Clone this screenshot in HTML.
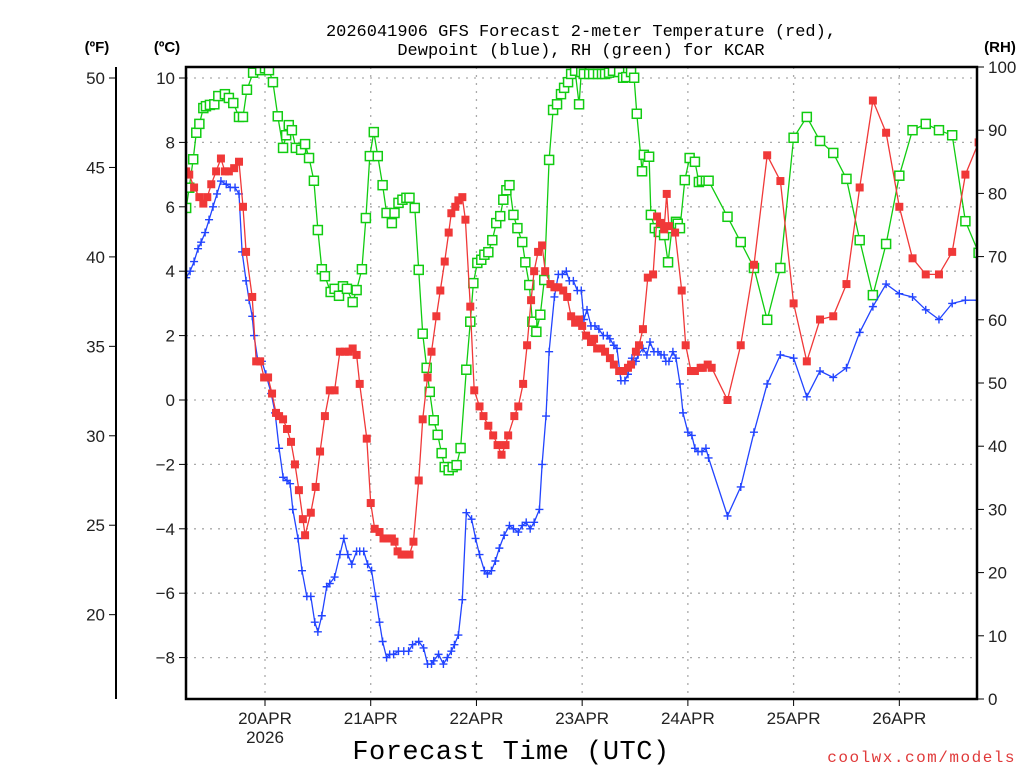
<!DOCTYPE html>
<html><head><meta charset="utf-8"><style>
html,body{margin:0;padding:0;background:#fff;width:1024px;height:768px;overflow:hidden}
svg{display:block}
.tk{font-family:"Liberation Sans",sans-serif;font-size:17px;fill:#222}
.ttl{font-family:"Liberation Mono",monospace;font-size:17px;fill:#000}
</style></head><body>
<svg id="chart" width="1024" height="768" xmlns="http://www.w3.org/2000/svg">
<text class="ttl" x="581" y="36" text-anchor="middle">2026041906 GFS Forecast 2-meter Temperature (red),</text>
<text class="ttl" x="581" y="55" text-anchor="middle">Dewpoint (blue), RH (green) for KCAR</text>
<text x="97" y="52" text-anchor="middle" font-family="Liberation Sans,sans-serif" font-weight="bold" font-size="15">(ºF)</text>
<text x="167" y="52" text-anchor="middle" font-family="Liberation Sans,sans-serif" font-weight="bold" font-size="15">(ºC)</text>
<text x="1000" y="52" text-anchor="middle" font-family="Liberation Sans,sans-serif" font-weight="bold" font-size="15">(RH)</text>
<text x="511" y="759" text-anchor="middle" font-family="Liberation Mono,monospace" font-size="27" letter-spacing="0.5">Forecast Time (UTC)</text>
<text x="1016" y="762" text-anchor="end" font-family="Liberation Mono,monospace" font-size="16" fill="#e03a3a" letter-spacing="1.5">coolwx.com/models</text>
<g id="grid"></g>
<g id="axes"></g>
<defs><clipPath id="pc"><rect x="186" y="67" width="791" height="632"/></clipPath></defs>
<g id="series" clip-path="url(#pc)"></g>
<rect x="186" y="67" width="791" height="632" fill="none" stroke="#000" stroke-width="2.5"/>
</svg>
<script>
// hours since 20APR 00Z
const tHours=[-17.9,-17.2,-16.1,-14.9,-14.0,-13.1,-12.2,-11.1,-10.0,-9.1,-8.2,-7.0,-5.9,-5.0,-4.3,-2.9,-2.0,-1.1,-0.2,0.7,1.6,2.5,3.2,4.1,5.0,5.9,6.8,7.7,8.6,9.1,10.4,11.5,12.5,13.6,14.7,15.8,17.0,18.1,19.0,19.9,20.8,21.5,23.1,24.0,24.9,26.0,26.9,27.8,28.8,29.4,30.1,31.0,31.7,32.8,33.7,34.9,35.8,36.9,37.8,38.9,39.8,40.8,41.7,42.3,43.2,43.9,44.8,45.5,46.6,47.5,48.7,49.6,50.7,51.8,52.8,53.7,54.6,55.2,56.6,57.5,58.6,59.5,60.4,61.1,62.0,62.9,63.6,64.8,65.7,66.6,67.7,68.6,69.5,70.4,71.3,72.0,72.9,74.0,74.7,75.4,76.3,77.2,78.3,79.2,80.4,81.3,82.4,83.1,84.2,84.9,85.8,86.9,88.1,89.0,89.9,90.6,91.2,91.7,93.1,94.6,95.5,96.7,97.6,98.9,99.4,100.5,101.4];
const tVals=[7.1,7.0,6.6,6.3,6.1,6.3,6.7,7.1,7.5,7.1,7.1,7.2,7.4,6.0,4.6,3.2,1.2,1.2,0.7,0.7,0.2,-0.4,-0.5,-0.6,-0.9,-1.3,-2.0,-2.8,-3.7,-4.2,-3.5,-2.7,-1.6,-0.5,0.3,0.3,1.5,1.5,1.5,1.6,1.4,0.5,-1.2,-3.2,-4.0,-4.1,-4.3,-4.3,-4.3,-4.4,-4.7,-4.8,-4.8,-4.8,-4.4,-2.5,-0.6,0.7,1.5,2.6,3.4,4.3,5.2,5.8,6.0,6.2,6.3,5.6,2.9,0.3,-0.2,-0.5,-0.8,-1.1,-1.4,-1.7,-1.4,-1.1,-0.5,-0.2,0.5,1.7,3.1,4.0,4.6,4.8,4.0,3.6,3.5,3.5,3.4,3.2,2.6,2.4,2.5,2.3,2.0,1.8,1.9,1.6,1.6,1.5,1.3,1.1,0.9,0.9,1.0,1.1,1.5,1.7,2.2,3.8,3.9,5.7,5.5,5.3,6.4,5.4,5.2,3.4,1.7,0.9,0.9,1.0,1.0,1.1,1.0];
const rhHours=[-17.9,-17.2,-16.3,-15.6,-14.9,-14.0,-13.4,-12.5,-11.5,-10.6,-9.1,-8.2,-7.2,-5.9,-5.0,-4.1,-2.7,-1.1,0,0.9,1.8,2.9,4.1,4.8,5.4,6.1,7.0,8.2,9.1,10.0,11.1,12.0,12.9,13.6,14.9,15.8,16.8,17.7,18.6,19.9,20.8,22.0,22.9,23.8,24.7,25.6,26.7,27.6,28.8,29.4,30.3,31.2,32.1,32.8,34.0,34.9,35.8,36.7,37.4,38.3,39.2,40.1,40.8,41.7,42.6,43.5,44.4,45.7,46.6,47.3,48.2,49.1,49.8,50.7,51.6,52.5,53.4,54.1,54.8,55.5,56.4,57.3,58.4,59.1,60.0,60.7,61.6,62.5,63.4,64.5,65.4,66.3,67.2,67.9,68.8,69.5,70.4,71.3,71.8,72.4,73.6,74.5,75.6,76.5,77.2,78.1,79.0,80.4,81.3,82.0,83.1,83.8,84.4,85.6,86.0,87.2,87.6,88.5,89.4,90.6,91.5,92.4,93.3,93.7,94.2,95.3,96.4,97.6,98.5,99.2,100.1,100.7];
const rhVals=[77.7,80.9,85.4,89.6,91.0,93.5,93.8,94.0,94.1,95.4,95.7,95.1,94.3,92.1,92.1,96.4,99.1,99.5,99.8,99.5,97.6,92.2,87.2,89.2,90.8,90.0,87.2,86.9,87.8,85.6,82.0,74.2,68.0,66.9,64.4,64.9,63.8,65.3,64.9,62.8,64.7,68.0,76.1,85.9,89.7,85.9,81.3,76.9,75.3,76.9,78.5,79.0,79.3,79.3,77.7,67.9,57.8,52.4,48.6,44.1,41.8,38.9,36.7,36.2,36.7,37.0,39.7,52.1,59.7,65.8,69.0,69.5,70.3,70.7,72.6,75.3,76.4,79.0,80.5,81.3,76.6,74.5,72.3,69.1,65.5,59.7,58.1,60.8,66.3,85.3,93.2,94.1,95.7,96.7,97.6,98.9,99.4,94.1,99.2,98.9,98.9,98.9,98.9,98.9,98.9,99.1,99.4,99.2,98.3,98.4,99.2,98.3,92.6,83.5,86.1,85.8,76.6,74.5,73.9,73.4,69.1,74.5,75.5,75.2,74.5,82.1,85.6,85.0,81.8,82.0,82.0,82.0];
const tdHours=[-17.9,-17.0,-16.1,-15.2,-14.5,-13.6,-12.7,-11.8,-10.9,-10.0,-8.8,-7.9,-6.8,-5.9,-5.2,-4.3,-3.6,-2.9,-2.5,-1.6,-0.7,0.2,1.4,2.3,3.2,4.1,5.0,5.7,6.3,7.5,8.4,9.5,10.4,11.3,12.0,12.9,14.0,14.7,15.8,17.0,17.9,18.8,19.7,20.8,21.5,22.4,23.3,24.2,25.1,26.0,26.7,27.6,28.3,29.2,30.3,31.5,32.6,33.5,34.9,36.0,36.9,37.8,38.3,39.4,40.5,41.4,42.3,43.0,43.9,44.8,45.7,46.9,47.8,48.7,49.8,50.5,51.4,52.3,53.2,54.3,55.5,56.4,57.5,58.4,59.3,60.2,61.1,62.3,62.9,63.8,64.5,65.7,66.6,67.5,68.4,69.1,70.0,70.9,71.8,72.4,73.1,74.0,74.9,75.8,76.8,77.7,78.3,79.2,79.9,80.8,81.7,82.4,83.3,84.2,84.7,85.8,86.7,87.4,88.3,89.2,89.9,90.6,91.0,91.7,92.6,93.3,94.2,94.9,96.0,96.9,97.6,98.3,99.2,100.1,100.7];
const tdVals=[3.8,4.0,4.3,4.7,4.9,5.2,5.6,6.0,6.4,6.8,6.7,6.6,6.6,6.4,4.6,3.7,3.1,2.6,2.0,1.2,1.2,0.8,0.2,-0.4,-1.5,-2.4,-2.5,-2.6,-3.4,-4.3,-5.3,-6.1,-6.1,-6.9,-7.2,-6.7,-5.8,-5.7,-5.5,-4.8,-4.3,-4.8,-5.1,-4.7,-4.7,-4.7,-5.1,-5.3,-6.1,-6.9,-7.5,-8.0,-7.9,-7.9,-7.8,-7.8,-7.8,-7.6,-7.5,-7.7,-8.2,-8.2,-8.1,-7.9,-8.2,-8.0,-7.8,-7.6,-7.3,-6.2,-3.5,-3.7,-4.3,-4.8,-5.3,-5.4,-5.3,-5.0,-4.6,-4.2,-3.9,-4.0,-4.1,-3.9,-3.8,-4.0,-3.8,-3.4,-2.0,-0.5,1.5,3.2,3.9,3.9,4.0,3.7,3.7,3.4,3.4,2.5,2.8,2.3,2.3,2.2,2.0,2.0,1.9,1.7,1.6,0.6,0.6,0.8,1.3,1.2,1.4,1.6,1.4,1.8,1.5,1.5,1.4,1.4,1.2,1.2,1.5,1.3,0.5,-0.4,-1.0,-1.1,-1.5,-1.6,-1.6,-1.5,-1.8];
// 3-hourly tail (shared times)
const tailHours=[105,108,111,114,117,120,123,126,129,132,135,138,141,144,147,150,153,156,159,162];
const tTail=[0.0,1.7,4.2,7.6,6.8,3.0,1.2,2.5,2.6,3.6,6.6,9.3,8.3,6.0,4.4,3.9,3.9,4.6,7.0,8.0];
const rhTail=[76.3,72.3,68.2,60.0,68.2,88.8,92.1,88.3,86.4,82.3,72.6,63.9,72.0,82.8,90.0,91.0,90.0,89.2,75.6,70.6];
const tdTail=[-3.6,-2.7,-1.0,0.5,1.4,1.3,0.1,0.9,0.7,1.0,2.1,2.9,3.6,3.3,3.2,2.8,2.5,3.0,3.1,3.1];
const dayLabels=["20APR","21APR","22APR","23APR","24APR","25APR","26APR"];
const cTicks=[-8,-6,-4,-2,0,2,4,6,8,10];
const fTicks=[20,25,30,35,40,45,50];
const rhTicks=[0,10,20,30,40,50,60,70,80,90,100];

const X0=265,PXH=4.405;
const xS=h=>X0+h*PXH;
const yC=c=>400-c*32.2;
const yF=f=>yC((f-32)*5/9);
const yR=r=>699-r*6.32;
const NS="http://www.w3.org/2000/svg";
function mk(tag,attrs,parent){const e=document.createElementNS(NS,tag);for(const k in attrs)e.setAttribute(k,attrs[k]);parent.appendChild(e);return e;}
const grid=document.getElementById('grid'),axes=document.getElementById('axes'),ser=document.getElementById('series');

cTicks.forEach(c=>{
  const y=yC(c);
  const g=mk('line',{x1:186,x2:977,y1:y,y2:y,stroke:'#aaa','stroke-width':1.3,'stroke-dasharray':'2,6'},grid);
  
  
  const t=mk('line',{x1:179,x2:186,y1:y,y2:y,stroke:'#000'},axes);
  
  
  const l=mk('text',{x:175,y:y+6,'text-anchor':'end',class:'tk'},axes);l.textContent=c<0?'\u2212'+(-c):c;
  
  
});
mk('line',{x1:116,x2:116,y1:67,y2:699,stroke:'#000','stroke-width':2},axes);
fTicks.forEach(f=>{
  const y=yF(f);
  const t=mk('line',{x1:109,x2:116,y1:y,y2:y,stroke:'#000'},axes);
  
  
  const l=mk('text',{x:105,y:y+6,'text-anchor':'end',class:'tk'},axes);l.textContent=f;
  
  
});
rhTicks.forEach(r=>{
  const y=yR(r);
  const t=mk('line',{x1:977,x2:984,y1:y,y2:y,stroke:'#000'},axes);
  
  
  const l=mk('text',{x:988,y:y+6,class:'tk'},axes);l.textContent=r;
  
  
});
dayLabels.forEach((d,i)=>{
  const x=xS(i*24);
  const g=mk('line',{x1:x,x2:x,y1:67,y2:699,stroke:'#aaa','stroke-width':1.3,'stroke-dasharray':'2,6'},grid);
  
  
  const t=mk('line',{x1:x,x2:x,y1:699,y2:706,stroke:'#000'},axes);
  
  
  const l=mk('text',{x:x,y:724,'text-anchor':'middle',class:'tk'},axes);l.textContent=d;
  
  
});
const yr=mk('text',{x:xS(0),y:743,'text-anchor':'middle',class:'tk'},axes);yr.textContent='2026';



function drawSeries(hrs,vals,yf,color,kind,name){
  const g=mk('g',{},ser);
  
  
  const pts=hrs.map((h,i)=>[xS(h),yf(vals[i])]);
  const ln=mk('polyline',{points:pts.map(p=>p[0].toFixed(1)+','+p[1].toFixed(1)).join(' '),fill:'none',stroke:color,'stroke-width':1.3},g);
  
  
  pts.forEach(p=>{
    let m;
    if(kind==='fill'){m=mk('rect',{x:p[0]-4,y:p[1]-4,width:8,height:8,fill:color},g);}
    else if(kind==='open'){m=mk('rect',{x:p[0]-4.5,y:p[1]-4.5,width:9,height:9,fill:'#fff',stroke:color,'stroke-width':1.5},g);}
    else{m=mk('path',{d:`M${p[0]-4},${p[1]}h8M${p[0]},${p[1]-4}v8`,stroke:color,'stroke-width':1.4},g);}
    
    
  });
}
drawSeries(rhHours.concat(tailHours),rhVals.concat(rhTail),yR,'#11cc11','open','rh');
drawSeries(tdHours.concat(tailHours),tdVals.concat(tdTail),yC,'#2244ff','plus','dewpoint');
drawSeries(tHours.concat(tailHours),tVals.concat(tTail),yC,'#f03838','fill','temperature');
</script>
</body></html>
